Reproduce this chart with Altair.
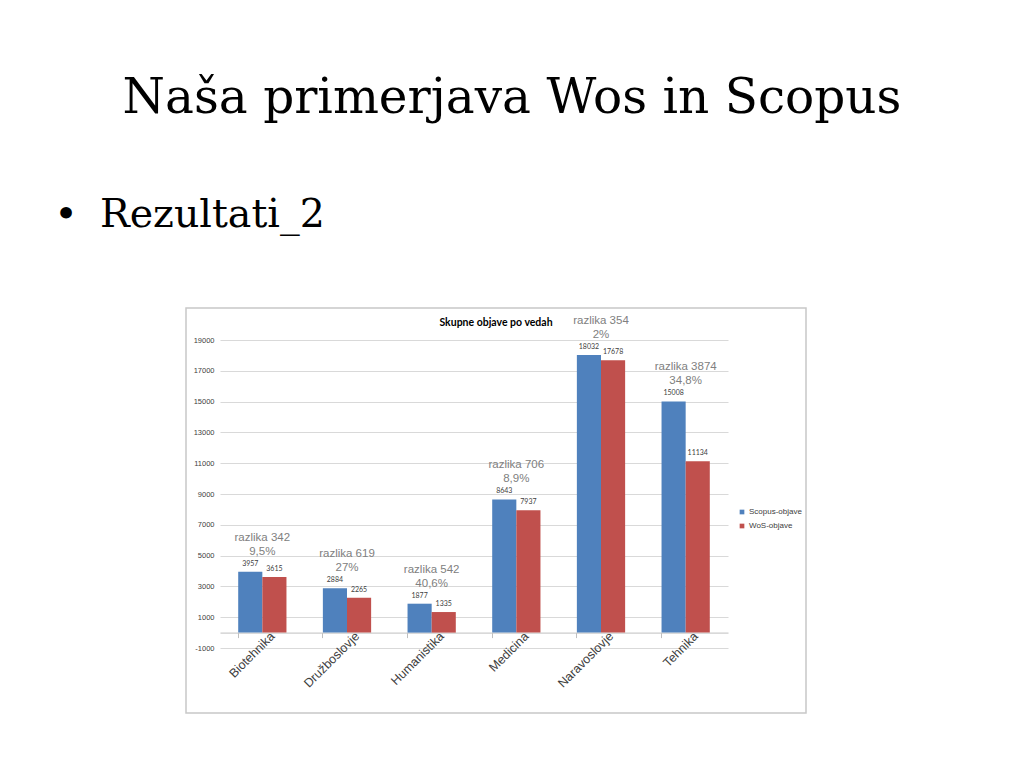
import altair as alt
import pandas as pd

slide_title = "Naša primerjava Wos in Scopus"
bullet_text = "Rezultati_2"
chart_title = "Skupne objave po vedah"

categories = ["Biotehnika", "Družboslovje", "Humanistika", "Medicina", "Naravoslovje", "Tehnika"]
series_names = ["Scopus-objave", "WoS-objave"]
scopus = [3957, 2884, 1877, 8643, 18032, 15008]
wos = [3615, 2265, 1335, 7937, 17678, 11134]
razlika = ["razlika 342", "razlika 619", "razlika 542", "razlika 706", "razlika 354", "razlika 3874"]
odstotek = ["9,5%", "27%", "40,6%", "8,9%", "2%", "34,8%"]
y_ticks = [-1000, 1000, 3000, 5000, 7000, 9000, 11000, 13000, 15000, 17000, 19000]

rows = []
for c, s, w in zip(categories, scopus, wos):
    rows.append({"kategorija": c, "serija": series_names[0], "vrednost": s})
    rows.append({"kategorija": c, "serija": series_names[1], "vrednost": w})
bars_df = pd.DataFrame(rows)

ann_df = pd.DataFrame({
    "kategorija": categories,
    "maks": [max(s, w) for s, w in zip(scopus, wos)],
    "razlika": razlika,
    "odstotek": odstotek,
})

W, H = 508, 308
FONT = "Liberation Sans"

x_enc = alt.X(
    "kategorija:N", sort=categories, title=None,
    scale=alt.Scale(paddingInner=0.43, paddingOuter=0.215),
    axis=alt.Axis(
        offset=-15.4, labelAngle=-45, labelFontSize=12.5, labelFont=FONT,
        labelColor="#404040", bandPosition=0, tickSize=5, tickColor="#bfbfbf",
        domainColor="#bfbfbf", labelPadding=-8, labelOffset=6, grid=False,
        labelOverlap=False,
    ),
)
y_scale = alt.Scale(domain=[-1000, 19000], nice=False, zero=False)
y_enc = alt.Y(
    "vrednost:Q", scale=y_scale, title=None,
    axis=alt.Axis(
        values=y_ticks, tickCount=len(y_ticks), labelExpr="'' + datum.value",
        labelOverlap=False, grid=True, gridColor="#d9d9d9", domain=False, ticks=False,
        labelFontSize=7.5, labelFont=FONT, labelColor="#404040", labelPadding=6,
    ),
)

# decoration: border of embedded chart
frame = alt.Chart(pd.DataFrame({"f": [0]})).mark_rect(
    fillOpacity=0, stroke="#c8c8c8", strokeWidth=1.5
).encode(
    x=alt.value(-34), x2=alt.value(586), y=alt.value(-32), y2=alt.value(373)
)

bars = alt.Chart(bars_df).mark_bar().encode(
    x=x_enc,
    xOffset=alt.XOffset("serija:N", sort=series_names),
    y=y_enc,
    color=alt.Color(
        "serija:N",
        scale=alt.Scale(domain=series_names, range=["#4F81BD", "#C0504D"]),
        legend=alt.Legend(
            title=None, orient="none", legendX=518, legendY=168,
            symbolType="square", symbolSize=22, symbolStrokeWidth=0,
            labelFontSize=8, labelFont=FONT, labelColor="#404040",
            rowPadding=6, labelOffset=3,
        ),
    ),
)

value_labels = alt.Chart(bars_df).mark_text(
    dy=-8, fontSize=7, font="Lato", color="#404040", baseline="middle"
).encode(
    x=alt.X("kategorija:N", sort=categories),
    xOffset=alt.XOffset("serija:N", sort=series_names),
    y=alt.Y("vrednost:Q", scale=y_scale),
    text=alt.Text("vrednost:Q", format="d"),
)

ann1 = alt.Chart(ann_df).mark_text(
    dy=-34, fontSize=11.5, font=FONT, color="#808080", baseline="middle"
).encode(
    x=alt.X("kategorija:N", sort=categories),
    y=alt.Y("maks:Q", scale=y_scale),
    text="razlika:N",
)
ann2 = alt.Chart(ann_df).mark_text(
    dy=-20, fontSize=11.5, font=FONT, color="#808080", baseline="middle"
).encode(
    x=alt.X("kategorija:N", sort=categories),
    y=alt.Y("maks:Q", scale=y_scale),
    text="odstotek:N",
)

ctitle = alt.Chart(pd.DataFrame({"t": [chart_title]})).mark_text(
    fontSize=10.5, font="Lato", fontWeight="bold", color="#000000", baseline="middle"
).encode(x=alt.value(276), y=alt.value(-17), text="t:N")

stitle = alt.Chart(pd.DataFrame({"t": [slide_title]})).mark_text(
    fontSize=48.5, font="DejaVu Serif", color="#000000", baseline="alphabetic", align="center"
).encode(x=alt.value(292), y=alt.value(-227), text="t:N")

bullet = alt.Chart(pd.DataFrame({"t": ["•"]})).mark_text(
    fontSize=40, font="DejaVu Serif", color="#000000", baseline="alphabetic", align="center"
).encode(x=alt.value(-154), y=alt.value(-113), text="t:N")

btext = alt.Chart(pd.DataFrame({"t": [bullet_text]})).mark_text(
    fontSize=39.5, font="DejaVu Serif", color="#000000", baseline="alphabetic", align="left"
).encode(x=alt.value(-120), y=alt.value(-113), text="t:N")

chart = alt.layer(
    frame, bars, value_labels, ann1, ann2, ctitle, stitle, bullet, btext
).properties(
    width=W, height=H,
    autosize=alt.AutoSizeParams(type="none"),
    padding={"left": 212, "top": 332, "right": 288, "bottom": 112},
    background="white",
).configure_view(stroke=None)

chart.save("out.html", embed_options={"renderer": "svg", "actions": False})
